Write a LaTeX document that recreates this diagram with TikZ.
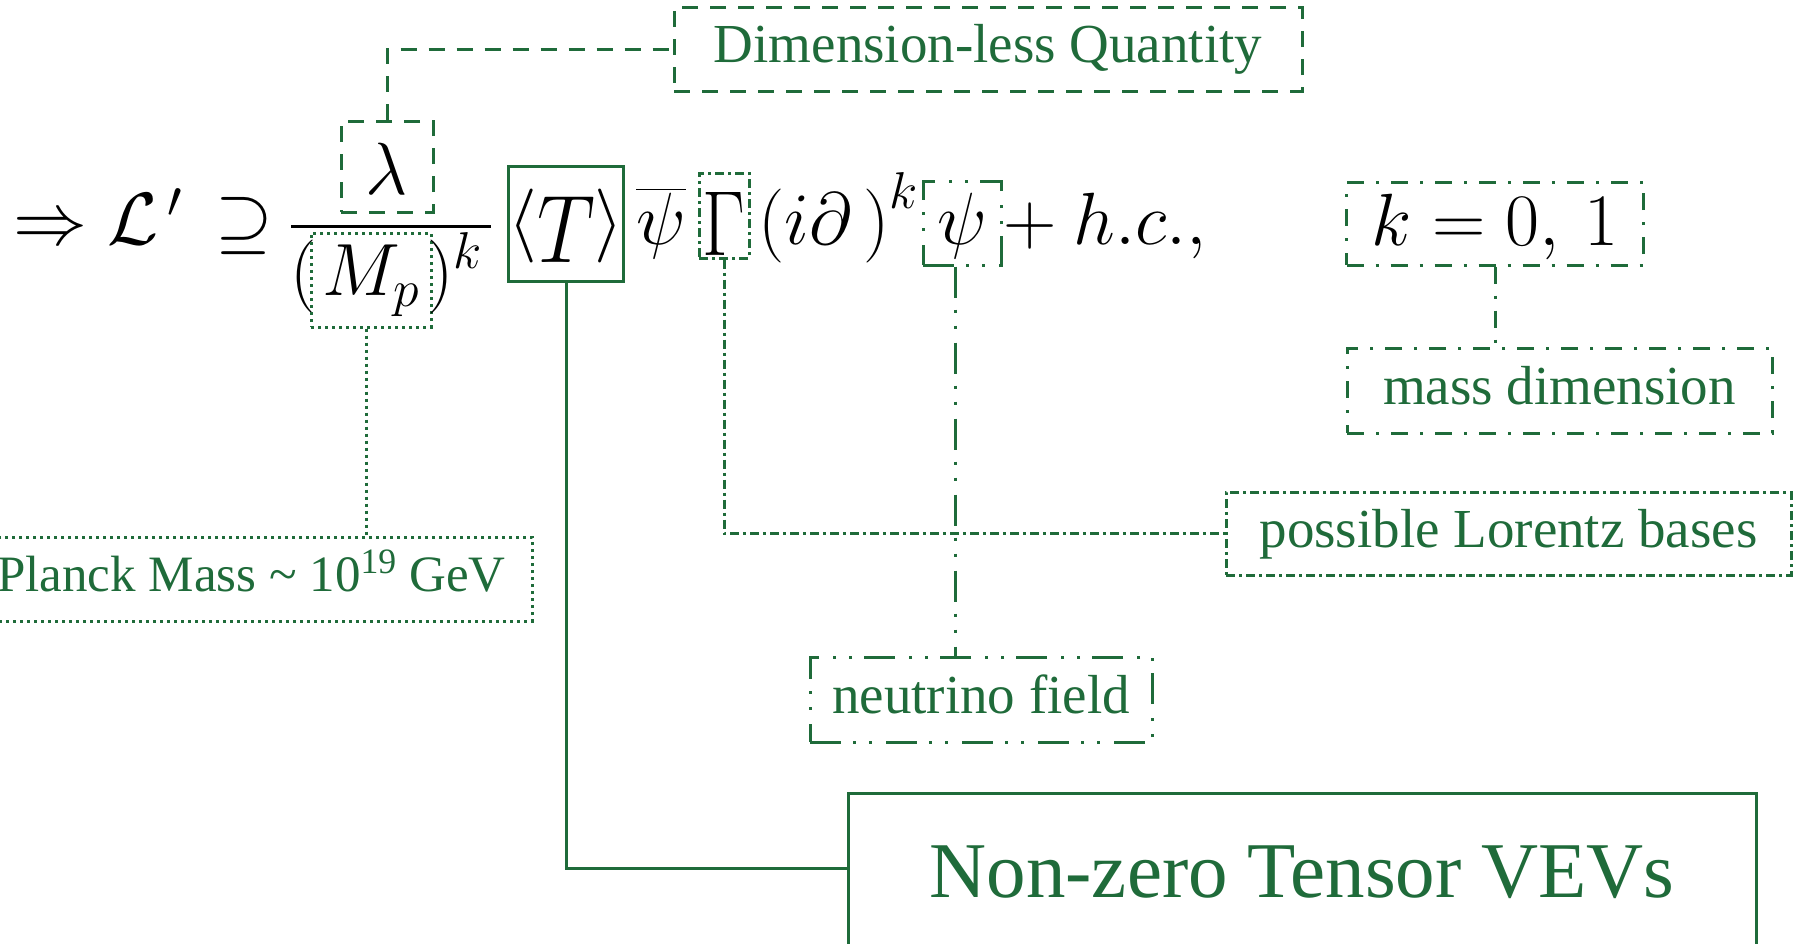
\RequirePackage{fix-cm}
\documentclass[tikz,border=0pt]{standalone}
\usepackage[no-math]{fontspec}
\usepackage{amsmath}
\usepackage{graphicx}
\usepackage{xcolor}
\usepackage{tikz}
\usetikzlibrary{positioning}
\newfontfamily\labelfont{Liberation Serif}
\definecolor{vgreen}{HTML}{1F6B3A}

\tikzset{
  dlqline/.style={draw=vgreen, line width=3pt, dash pattern=on 16pt off 12pt},
  planckline/.style={draw=vgreen, line width=3pt, dash pattern=on 3pt off 4pt},
  lorentzline/.style={draw=vgreen, line width=3pt, dash pattern=on 9pt off 4pt on 3pt off 4pt},
  nuline/.style={draw=vgreen, line width=3pt, dash pattern=on 31pt off 12pt on 3pt off 13pt on 3pt off 14pt},
  massline/.style={draw=vgreen, line width=3pt, dash pattern=on 17pt off 12pt on 3pt off 12pt},
  vevline/.style={draw=vgreen, line width=3pt},
  eq/.style={inner sep=0pt, font=\fontsize{74}{80}\selectfont},
  tag/.style={inner sep=0pt, text=vgreen, font=\labelfont\fontsize{55}{60}\selectfont,
    text height=39pt, text depth=12pt}
}

\begin{document}
\begin{tikzpicture}[x=1pt, y=-1pt]
    \useasboundingbox (0,0) rectangle (1794,943);

    % formula
    \node[eq, anchor=base west] (lhs) at (13,244) {$\Rightarrow \mathcal{L}^{\,\prime}\,\supseteq$};
    \node[eq, dlqline, anchor=base, minimum width=92pt, text height=73pt, text depth=18pt] (lam) at (387,194) {$\lambda$};
    \draw[line width=3pt] (291,226) -- (491,226);
    \node[eq, anchor=base west] (lpar) at (290,295) {$($};
    \node[eq, planckline, anchor=base, minimum width=120pt, text height=62pt, text depth=32pt] (mp) at (371,295) {$M_p$};
    \node[eq, anchor=base west] (rpar) at (427,295) {$)^k$};
    \node[eq, vevline, anchor=base, minimum width=114pt, text height=78pt, text depth=37pt] (vev) at (566,244)
        {$\langle$\raisebox{-18pt}{\scalebox{1.1}[1.3]{$T$}}$\rangle$};
    \node[eq, anchor=base west] (psibar) at (636,244) {$\overline{\psi}$};
    \node[eq, lorentzline, anchor=base, minimum width=50pt, text height=82pt, text depth=3pt] (gam) at (724,255)
        {\scalebox{1}[1.25]{$\Gamma$}};
    \node[eq, anchor=base west] (deriv) at (758,244) {$\left(i\partial\,\right)^k$};
    \node[eq, nuline, anchor=base, minimum width=78pt, text height=63pt, text depth=21pt] (psi) at (962,244) {$\psi$};
    \node[eq, anchor=base west] (hc) at (987,244) {${}+h.c.,$};
    \node[eq, massline, anchor=base, minimum width=297pt, text height=63pt, text depth=20pt] (kval) at (1495,245) {$k = 0,\,1$};

    % labels
    \node[tag, dlqline, minimum width=628pt, minimum height=84pt] (dlq) at (988,49) {Dimension-less Quantity};
    \node[tag, massline, minimum width=425pt, minimum height=85pt] (massdim) at (1559.5,390.5) {mass dimension};
    \node[tag, lorentzline, minimum width=565pt, minimum height=83pt] (lorentz) at (1508.5,533.5) {possible Lorentz bases};
    \node[tag, nuline, minimum width=342pt, minimum height=85pt] (nu) at (981,699.5) {neutrino field};
    \node[tag, planckline, minimum width=561pt, minimum height=84pt, font=\labelfont\fontsize{51}{56}\selectfont,
        text height=36pt, text depth=11pt] (planck) at (251.5,579) {Planck Mass \textasciitilde{} 10\textsuperscript{19} GeV};
    \node[tag, vevline, minimum width=908pt, minimum height=170pt, font=\labelfont\fontsize{79}{84}\selectfont,
        text height=55pt, text depth=17pt] (tensor) at (1302,878) {Non-zero Tensor VEVs};

    % connectors
    \draw[dlqline] (lam.north) |- (dlq.west);
    \draw[planckline] ([xshift=-5pt]mp.south) -- ([xshift=-5pt]mp.south |- planck.north);
    \draw[vevline] (vev.south) |- ([yshift=10pt]tensor.west);
    \draw[lorentzline] (gam.south) |- (lorentz.west);
    \draw[nuline] ([xshift=-7pt]psi.south) -- ([xshift=-7pt]psi.south |- nu.north);
    \draw[massline] (kval.south) -- (kval.south |- massdim.north);
\end{tikzpicture}
\end{document}
